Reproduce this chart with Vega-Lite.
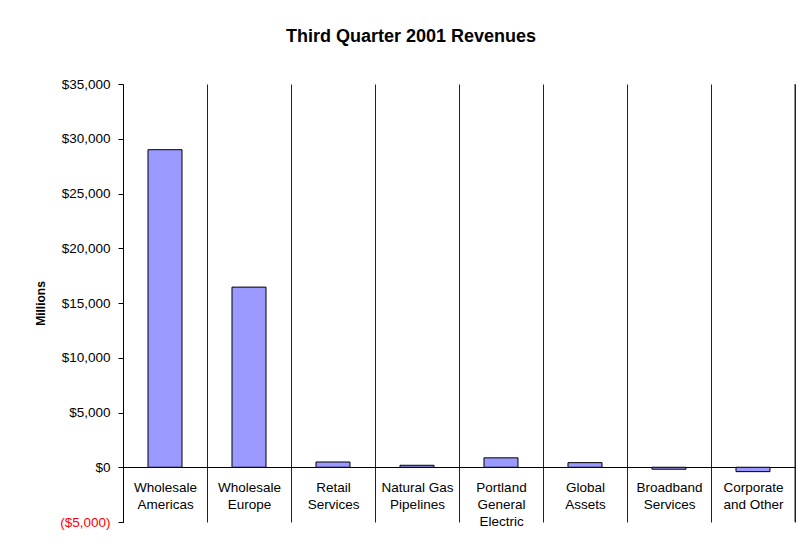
{
  "$schema": "https://vega.github.io/schema/vega-lite/v6.json",
  "autosize": "none",
  "width": 672,
  "height": 438,
  "padding": {"left": 123, "top": 84, "right": 9, "bottom": 21},
  "background": "white",
  "config": {"font": "Liberation Sans", "view": {"stroke": null}},
  "title": {
    "text": "Third Quarter 2001 Revenues",
    "fontSize": 18,
    "fontWeight": "bold",
    "font": "Liberation Sans",
    "color": "black",
    "anchor": "middle",
    "dx": -48,
    "offset": 31
  },
  "data": {
    "values": [
      {"segment": "Wholesale Americas", "revenue": 29000},
      {"segment": "Wholesale Europe", "revenue": 16450},
      {"segment": "Retail Services", "revenue": 480},
      {"segment": "Natural Gas Pipelines", "revenue": 180},
      {"segment": "Portland General Electric", "revenue": 860},
      {"segment": "Global Assets", "revenue": 420},
      {"segment": "Broadband Services", "revenue": -180},
      {"segment": "Corporate and Other", "revenue": -400}
    ]
  },
  "encoding": {
    "x": {
      "field": "segment",
      "type": "nominal",
      "sort": null,
      "scale": {"paddingInner": 0, "paddingOuter": 0},
      "axis": {
        "title": null,
        "orient": "bottom",
        "offset": -55,
        "labelAngle": 0,
        "labelFontSize": 13.5,
        "labelColor": "black",
        "labelLineHeight": 17,
        "labelBaseline": "top",
        "labelPadding": 13,
        "labelExpr": "datum.label == 'Natural Gas Pipelines' ? ['Natural Gas', 'Pipelines'] : datum.label == 'Corporate and Other' ? ['Corporate', 'and Other'] : split(datum.label, ' ')",
        "ticks": false,
        "domain": true,
        "domainColor": "black",
        "domainWidth": 1,
        "grid": true,
        "tickBand": "extent",
        "gridColor": "#222222",
        "gridOpacity": 1,
        "gridWidth": 1
      }
    }
  },
  "layer": [
    {
      "mark": {"type": "bar", "color": "#9999FF", "stroke": "black", "strokeWidth": 1, "width": {"band": 0.405}},
      "encoding": {
        "y": {
          "field": "revenue",
          "type": "quantitative",
          "scale": {"domain": [-5000, 35000], "nice": false, "zero": false},
          "axis": {
            "title": "Millions",
            "titleFontSize": 12,
            "titleFontWeight": "bold",
            "titleColor": "black",
            "titlePadding": 12,
            "values": [-5000, 0, 5000, 10000, 15000, 20000, 25000, 30000, 35000],
            "labelExpr": "datum.value < 0 ? '(' + format(-datum.value, '$,') + ')' : format(datum.value, '$,')",
            "labelFontSize": 13.5,
            "labelColor": {"condition": {"test": "datum.value < 0", "value": "#FF0000"}, "value": "black"},
            "labelPadding": 8,
            "tickSize": 5,
            "tickColor": "black",
            "domainColor": "black",
            "grid": false
          }
        }
      }
    },
    {
      "transform": [{"filter": "datum.segment == 'Corporate and Other'"}],
      "mark": {"type": "rule", "color": "#222222", "strokeWidth": 1},
      "encoding": {
        "x": {"field": "segment", "type": "nominal", "sort": null, "bandPosition": 1},
        "y": {"datum": -5000, "type": "quantitative"},
        "y2": {"datum": 35000}
      }
    }
  ]
}
